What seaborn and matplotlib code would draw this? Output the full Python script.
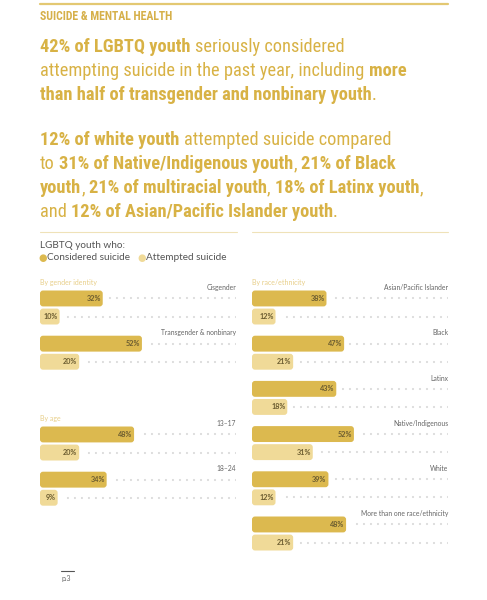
import numpy as np
import pandas as pd
import seaborn as sns
import matplotlib
matplotlib.use("Agg")
import matplotlib.pyplot as plt
from matplotlib import font_manager as fm
from matplotlib.patches import FancyBboxPatch
from matplotlib.lines import Line2D

# ---------------- data ----------------
gender_groups = ["Cisgender", "Transgender & nonbinary"]
gender_considered = [32, 52]
gender_attempted = [10, 20]

age_groups = ["13\u201317", "18\u201324"]
age_considered = [48, 34]
age_attempted = [20, 9]

race_groups = ["Asian/Pacific Islander", "Black", "Latinx", "Native/Indigenous",
               "White", "More than one race/ethnicity"]
race_considered = [38, 47, 43, 52, 39, 48]
race_attempted = [12, 21, 18, 31, 12, 21]

measures = ["Considered suicide", "Attempted suicide"]

# ---------------- style ----------------
W, H = 487, 600
sns.set_theme(style="white")
plt.rcParams["font.family"] = ["Lato", "DejaVu Sans"]


def pick_condensed():
    def wnum(w):
        if isinstance(w, (int, float)):
            return int(w)
        return {"normal": 400, "regular": 400, "book": 400, "medium": 500,
                "semibold": 600, "demibold": 600, "bold": 700, "heavy": 800,
                "black": 900, "light": 300}.get(str(w).lower(), 400)

    def is_cond(f):
        s = f.stretch
        if isinstance(s, (int, float)):
            c = s < 500
        else:
            c = "condensed" in str(s)
        n = f.name.lower()
        return c or "narrow" in n or "condensed" in n

    groups = {}
    for f in fm.fontManager.ttflist:
        if f.style != "normal" or not is_cond(f):
            continue
        key = (f.name, str(f.stretch))
        groups.setdefault(key, {})[wnum(f.weight)] = f.fname
    prefs = ["Liberation Sans Narrow", "Roboto Condensed", "Open Sans Condensed",
             "Open Sans", "Noto Sans Condensed", "Noto Sans", "Lato",
             "DejaVu Sans Condensed", "DejaVu Sans"]
    stretch_rank = {"condensed": 0, "semi-condensed": 1, "extra-condensed": 2}
    best, best_score = None, None
    for (name, stretch), d in groups.items():
        regs = [w for w in d if 350 <= w <= 450]
        bolds = [w for w in d if 600 <= w <= 800]
        if not regs or not bolds:
            continue
        reg = min(regs, key=lambda w: abs(w - 400))
        bold = min(bolds, key=lambda w: abs(w - 700))
        pi = prefs.index(name) if name in prefs else len(prefs)
        score = (pi, stretch_rank.get(stretch, 3))
        if best_score is None or score < best_score:
            best_score = score
            best = (d[reg], d[bold])
    return best


cond = pick_condensed()
if cond:
    FP_REG = lambda s: fm.FontProperties(fname=cond[0], size=s)
    FP_BOLD = lambda s: fm.FontProperties(fname=cond[1], size=s)
else:
    FP_REG = lambda s: fm.FontProperties(family="Roboto", size=s)
    FP_BOLD = lambda s: fm.FontProperties(family="Roboto", weight="bold", size=s)

C_CONS = "#dcb94f"
C_ATT = "#f0da98"
GOLD = "#d8b245"
GRAY = "#666666"

fig = plt.figure(figsize=(W / 100, H / 100), dpi=100)
fig.patch.set_facecolor("white")
renderer = fig.canvas.get_renderer()


def fx(x):
    return x / W


def fy(y):
    return 1 - y / H


def fp(bold, size):
    return FP_BOLD(size) if bold else FP_REG(size)


def text_width(s, prop):
    t = fig.text(0, 0, s, fontproperties=prop)
    w = t.get_window_extent(renderer).width
    t.remove()
    return w


def layout_line(segs, size, draw=False, x=0, y=0, color=GOLD):
    cur = x
    for s, bold in segs:
        prop = fp(bold, size)
        sw = text_width("n n", prop) - text_width("nn", prop)
        lead = len(s) - len(s.lstrip(" "))
        trail = len(s) - len(s.rstrip(" "))
        core = s.strip(" ")
        cur += lead * sw
        if core:
            if draw:
                fig.text(fx(cur), fy(y), core, fontproperties=prop, color=color,
                         va="baseline", ha="left")
            cur += text_width(core, prop)
        cur += trail * sw
    return cur - x


para1 = [
    [("42% of LGBTQ youth", True), (" seriously considered", False)],
    [("attempting suicide in the past year, including ", False), ("more", True)],
    [("than half of transgender and nonbinary youth", True), (".", False)],
]
para2 = [
    [("12% of white youth", True), (" attempted suicide compared", False)],
    [("to ", False), ("31% of Native/Indigenous youth", True), (", ", False), ("21% of Black", True)],
    [("youth", True), (", ", False), ("21% of multiracial youth", True), (", ", False),
     ("18% of Latinx youth", True), (",", False)],
    [("and ", False), ("12% of Asian/Pacific Islander youth", True), (".", False)],
]

# fit headline size to the reference line widths
ref_w = [300, 373, 338, 353, 354, 383, 293]
lines = para1 + para2
ratios = [rw / layout_line(l, 10) for rw, l in zip(ref_w, lines)]
hsize = 10 * float(np.mean(ratios))
hsize = min(hsize, 14.5)

for segs, yb in zip(para1, [52, 76, 100]):
    layout_line(segs, hsize, draw=True, x=40, y=yb)
for segs, yb in zip(para2, [145, 169, 193, 217]):
    layout_line(segs, hsize, draw=True, x=40, y=yb)

# section title
w10 = text_width("SUICIDE & MENTAL HEALTH", FP_BOLD(10))
fig.text(fx(40), fy(20), "SUICIDE & MENTAL HEALTH",
         fontproperties=FP_BOLD(min(10 * 133 / w10, 9.5)),
         color="#d6b04a", va="baseline")

# rules
fig.add_artist(Line2D([fx(40), fx(448)], [fy(3.5)] * 2, color="#e3c872", lw=1.6))
fig.add_artist(Line2D([fx(40), fx(237)], [fy(232)] * 2, color="#efe2b8", lw=0.8))
fig.add_artist(Line2D([fx(252), fx(448)], [fy(232)] * 2, color="#efe2b8", lw=0.8))

# legend
fig.text(fx(40), fy(245.5), "LGBTQ youth who:", fontsize=7.2, color="#555555", va="center")
fig.text(fx(43), fy(257.5), "\u25cf", fontsize=7, color=C_CONS, va="center", ha="center",
         family="DejaVu Sans")
fig.text(fx(47), fy(257.5), measures[0], fontsize=7.2, color="#555555", va="center")
fig.text(fx(142), fy(257.5), "\u25cf", fontsize=7, color=C_ATT, va="center", ha="center",
         family="DejaVu Sans")
fig.text(fx(145.5), fy(257.5), measures[1], fontsize=7.2, color="#555555", va="center")

PITCH = 45.2  # px per category
PXX = 196 / 100  # px per percent


def panel(x0px, top_px, groups, cons, att, heading):
    n = len(groups)
    ymin, ymax = -1, n - 0.5
    height_px = (ymax - ymin) * PITCH
    ax = fig.add_axes([fx(x0px), fy(top_px + height_px), 196 / W, height_px / H])
    df = pd.DataFrame({
        "group": groups * 2,
        "pct": cons + att,
        "measure": [measures[0]] * n + [measures[1]] * n,
    })
    sns.barplot(data=df, x="pct", y="group", hue="measure", order=groups,
                hue_order=measures, palette=[C_CONS, C_ATT], orient="h",
                width=0.8, gap=0.12, errorbar=None, legend=False, saturation=1,
                ax=ax)
    ax.set_xlim(0, 100)
    ax.set_ylim(ymax, ymin)
    ax.set_axis_off()

    r_px = 3.0
    rx = r_px / PXX
    ry = r_px / PITCH
    for p in list(ax.patches):
        x, y, w, h = p.get_x(), p.get_y(), p.get_width(), p.get_height()
        fc = p.get_facecolor()
        p.set_visible(False)
        ax.add_patch(FancyBboxPatch((x, y), w, h,
                                    boxstyle=f"round,pad=0,rounding_size={rx}",
                                    mutation_aspect=ry / rx, facecolor=fc,
                                    edgecolor="none", zorder=3))
        yc = y + h / 2
        ax.text(x + w - 1.0, yc, f"{w:.0f}%", ha="right", va="center",
                fontsize=5.2, fontweight="bold", color="#6b5c30", zorder=4)
        ax.plot([100, x + w + 2.6], [yc, yc], color="#d6d6d6", lw=1.5,
                ls=(0, (0.001, 3.36)), dash_capstyle="round", zorder=2)
    for i, g in enumerate(groups):
        ax.text(100, i - 0.44, g, ha="right", va="center", fontsize=4.9,
                color=GRAY)
    ax.text(0, -0.56, heading, ha="left", va="center", fontsize=5.0,
            color="#e8cf8a")
    return ax


panel(40, 307.5 - 1.0 * PITCH, gender_groups, gender_considered, gender_attempted,
      "By gender identity")
panel(40, 443.5 - 1.0 * PITCH, age_groups, age_considered, age_attempted, "By age")
panel(252, 307.5 - 1.0 * PITCH, race_groups, race_considered, race_attempted,
      "By race/ethnicity")

# footer
fig.add_artist(Line2D([fx(61), fx(74)], [fy(571)] * 2, color="#555555", lw=0.8))
fig.text(fx(61), fy(579), "p.3", fontsize=5, color=GRAY, va="center")

fig.savefig("out.png", dpi=100, facecolor="white")
